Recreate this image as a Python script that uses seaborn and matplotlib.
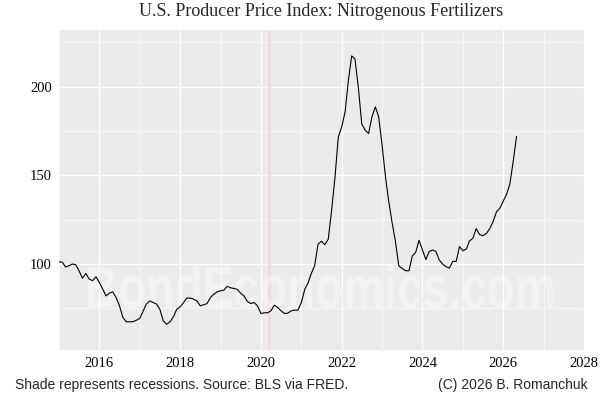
import pandas as pd
import matplotlib.pyplot as plt
import matplotlib.dates as mdates
from matplotlib.textpath import TextPath
from matplotlib.patches import PathPatch
from matplotlib.font_manager import FontProperties
from matplotlib.transforms import Affine2D
import seaborn as sns

# monthly index values (Jan 2015 onwards)
start_month = "2015-01-01"
ppi_values = [
    101.3, 101.0, 98.3, 99.0, 100.0, 99.6, 96.2, 92.0, 94.7, 91.5, 90.6, 92.8,
    89.6, 85.8, 82.0, 83.6, 84.3, 81.0, 76.4, 69.8, 67.4, 67.4, 67.5, 68.3,
    69.4, 73.6, 77.4, 79.2, 78.3, 77.4, 74.5, 67.9, 66.0, 67.4, 70.2, 74.5,
    75.8, 78.3, 80.8, 80.8, 80.2, 79.2, 76.4, 77.0, 77.7, 81.1, 83.0, 84.3,
    84.9, 85.3, 87.4, 86.6, 86.2, 85.7, 83.6, 82.0, 78.9, 77.7, 78.3, 76.4,
    72.1, 72.5, 72.5, 73.6, 76.8, 75.5, 73.6, 72.1, 72.3, 73.6, 74.0, 74.0,
    78.3, 85.8, 89.2, 94.7, 99.0, 111.3, 112.8, 110.9, 114.0, 130.0, 149.0, 171.7,
    177.4, 186.0, 203.0, 217.4, 215.6, 199.0, 179.0, 175.5, 173.6, 183.0, 188.7, 183.0,
    167.0, 149.0, 135.8, 123.5, 113.0, 99.0, 97.5, 96.2, 96.2, 104.5, 106.6, 113.4,
    108.0, 102.5, 107.0, 107.9, 107.1, 102.3, 100.0, 98.5, 97.7, 101.5, 101.5, 109.8,
    107.5, 108.5, 113.0, 114.5, 120.0, 116.6, 116.0, 117.2, 120.0, 124.0, 129.5, 131.5,
    135.5, 139.5, 145.0, 158.0, 172.0,
]
recession_start = "2020-03-01"
recession_end = "2020-04-01"
x_ticks = [2016, 2018, 2020, 2022, 2024, 2026, 2028]
y_ticks = [100, 150, 200]

df = pd.DataFrame({
    "Date": pd.date_range(start_month, periods=len(ppi_values), freq="MS"),
    "PPI": ppi_values,
})

sns.set_style("darkgrid", {"axes.facecolor": "#EBEBEB", "grid.color": "white"})

fig = plt.figure(figsize=(6, 4), dpi=100)
ax = fig.add_axes([59 / 600, 50 / 400, 525 / 600, 320 / 400])

ax.axvspan(pd.Timestamp(recession_start), pd.Timestamp(recession_end),
           color="#F3D9DE", lw=0, zorder=1)
sns.lineplot(data=df, x="Date", y="PPI", color="black", linewidth=0.8, ax=ax, zorder=3)

ax.set_xlim(pd.Timestamp("2015-01-01"), pd.Timestamp("2028-01-01"))
ax.set_ylim(51.5, 232)
ax.set_xticks([pd.Timestamp(f"{y}-01-01") for y in x_ticks])
ax.set_xticks([pd.Timestamp(f"{y}-01-01") for y in range(2015, 2028, 2)], minor=True)
ax.xaxis.set_major_formatter(mdates.DateFormatter("%Y"))
ax.set_yticks(y_ticks)
ax.set_yticks([75, 125, 175, 225], minor=True)
ax.grid(which="major", color="white", linewidth=0.8)
ax.grid(which="minor", color="white", linewidth=0.45)
ax.set_axisbelow(True)
for s in ax.spines.values():
    s.set_visible(False)
ax.tick_params(which="major", length=3, width=0.6, color="#333333", pad=2,
               labelsize=10.5, labelcolor="black")
ax.tick_params(which="minor", length=0)
for lab in ax.get_xticklabels() + ax.get_yticklabels():
    lab.set_fontfamily("Liberation Serif")
ax.set_xlabel("")
ax.set_ylabel("")

# watermark: condensed bold text, squeezed to fit its box in the reference
tp = TextPath((0, 0), "BondEconomics.com", size=1,
              prop=FontProperties(family="Liberation Sans", weight="bold"))
ext = tp.get_extents()
sx = 465 / ext.width / 600
sy = 43 / ext.height / 400
wm_tr = (Affine2D().translate(-ext.x0, -ext.y0).scale(sx, sy)
         .translate(88 / 600, 92 / 400) + fig.transFigure)
ax.add_patch(PathPatch(tp, transform=wm_tr, facecolor="white", edgecolor="none",
                       alpha=0.4, zorder=2, clip_on=False))

fig.text(321.5 / 600, 1 - 12 / 400, "U.S. Producer Price Index: Nitrogenous Fertilizers",
         ha="center", va="center", fontsize=13, fontfamily="Liberation Serif")
fig.text(15 / 600, 1 - 385 / 400, "Shade represents recessions. Source: BLS via FRED.",
         ha="left", va="center", fontsize=10, fontfamily="Liberation Sans")
fig.text(588 / 600, 1 - 385 / 400, "(C) 2026 B. Romanchuk",
         ha="right", va="center", fontsize=10, fontfamily="Liberation Sans")

fig.savefig("out.png", dpi=100)
